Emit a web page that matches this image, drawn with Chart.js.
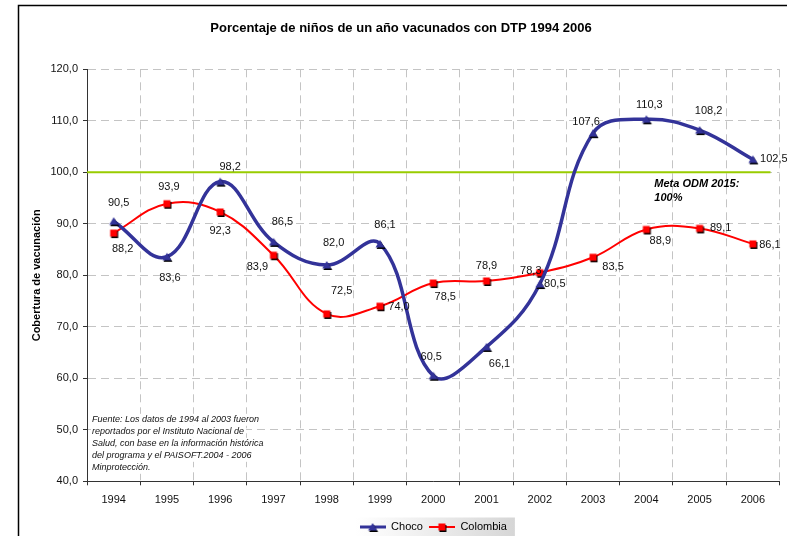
<!DOCTYPE html>
<html>
<head>
<meta charset="utf-8">
<script src="https://cdn.jsdelivr.net/npm/chart.js@4"></script>
<style>
  body { margin: 0; background: #ffffff; }
</style>
</head>
<body>
<canvas id="chart" width="787" height="536"></canvas>
<script>
// datos
const years = ['1994', '1995', '1996', '1997', '1998', '1999', '2000', '2001', '2002', '2003', '2004', '2005', '2006']
const choco = [90.5, 83.6, 98.2, 86.5, 82.0, 86.1, 60.5, 66.1, 78.3, 107.6, 110.3, 108.2, 102.5]
const colombia = [88.2, 93.9, 92.3, 83.9, 72.5, 74.0, 78.5, 78.9, 80.5, 83.5, 88.9, 89.1, 86.1]
const meta = 100
const yTicks = { min: 40, max: 120, step: 10 }

const title = 'Porcentaje de niños de un año vacunados con DTP 1994 2006'
const yTitle = 'Cobertura de vacunación'
const metaText = ['Meta ODM 2015:', '100%']
const fuente = [
    'Fuente: Los datos de 1994 al 2003 fueron',
    'reportados por el Instituto Nacional de',
    'Salud, con base en la información histórica',
    'del programa y el PAISOFT.2004 - 2006',
    'Minprotección.'
]

// where each value label sits, relative to its point (px)
const chocoLabelOffsets = [[5, -18], [3, 21], [10, -15], [9, -20], [7, -22], [5, -19], [-2, -19],
    [13, 17], [-9, -13], [-7, -11], [3, -14], [9, -19], [21, 0]]
const colombiaLabelOffsets = [[9, 16], [2, -17], [0, 19], [-16, 12], [15, -23], [19, 1], [12, 14],
    [0, -15], [15, 11], [20, 10], [14, 12], [21, 0], [17, 1]]

const FONT = 'Arial, "Liberation Sans", sans-serif'
const NAVY = '#333399'
const RED = '#ff0000'
const GREEN = '#99cc00'

function fmt(v) {
    return v.toFixed(1).replace('.', ',')
}

function makeMarker(shape, color, w, h, lineWidth) {
    let c = document.createElement('canvas')
    c.width = w
    c.height = h
    let g = c.getContext('2d')
    let cx = w / 2, cy = h / 2
    if (lineWidth) {
        g.strokeStyle = color
        g.lineWidth = lineWidth
        g.beginPath()
        g.moveTo(0, cy)
        g.lineTo(w, cy)
        g.stroke()
    }
    let draw = (dx, dy, fill) => {
        g.fillStyle = fill
        g.beginPath()
        if (shape === 'triangle') {
            g.moveTo(cx + dx, cy - 4 + dy)
            g.lineTo(cx + 4.5 + dx, cy + 3.5 + dy)
            g.lineTo(cx - 4.5 + dx, cy + 3.5 + dy)
            g.closePath()
        } else {
            g.rect(cx - 3.5 + dx, cy - 3.5 + dy, 7, 7)
        }
        g.fill()
    }
    draw(1, 1.5, '#000000')
    draw(0, 0, color)
    return c
}

const chocoMarker = makeMarker('triangle', NAVY, 14, 14, 0)
const colombiaMarker = makeMarker('square', RED, 14, 14, 0)
const chocoLegend = makeMarker('triangle', NAVY, 26, 12, 3)
const colombiaLegend = makeMarker('square', RED, 26, 12, 2)

const decorations = {
    id: 'decorations',
    beforeDraw(chart) {
        let ctx = chart.ctx
        ctx.save()
        ctx.fillStyle = '#ffffff'
        ctx.fillRect(0, 0, chart.width, chart.height)
        ctx.strokeStyle = '#000000'
        ctx.lineWidth = 1.5
        ctx.strokeRect(18.5, 5.5, 900, 900)
        // grey box behind the legend
        let boxes = chart.legend.legendHitBoxes
        if (boxes && boxes.length) {
            let l = boxes[0].left - 4
            let r = boxes[boxes.length - 1].left + boxes[boxes.length - 1].width + 8
            let t = boxes[0].top - 4
            let grad = ctx.createLinearGradient(l, 0, r, 0)
            grad.addColorStop(0, '#ffffff')
            grad.addColorStop(0.3, '#f4f4f4')
            grad.addColorStop(1, '#d6d6d6')
            ctx.fillStyle = grad
            ctx.fillRect(l, t, r - l, chart.height - t)
        }
        ctx.restore()
    },
    beforeDatasetsDraw(chart) {
        let ctx = chart.ctx
        let x = chart.scales.x, y = chart.scales.y
        let area = chart.chartArea
        ctx.save()
        // meta line
        let ym = y.getPixelForValue(meta)
        ctx.strokeStyle = GREEN
        ctx.lineWidth = 2
        ctx.beginPath()
        ctx.moveTo(area.left, ym)
        ctx.lineTo(area.right - 9, ym)
        ctx.stroke()

        ctx.fillStyle = '#000000'
        ctx.font = 'italic bold 11px ' + FONT
        ctx.textBaseline = 'middle'
        ctx.textAlign = 'left'
        let mx = x.getPixelForValue(10) + 8
        metaText.forEach((t, i) => ctx.fillText(t, mx, ym + 12 + i * 14))

        // fuente note
        ctx.font = 'italic 9px ' + FONT
        let fx = area.left + 5
        let fy = y.getPixelForValue(50) - 10
        fuente.forEach((t, i) => {
            let w = ctx.measureText(t).width
            ctx.fillStyle = '#ffffff'
            ctx.fillRect(fx - 1, fy + i * 12 - 6, w + 3, 12)
            ctx.fillStyle = '#111111'
            ctx.fillText(t, fx, fy + i * 12)
        })
        ctx.restore()
    },
    afterDatasetsDraw(chart) {
        let ctx = chart.ctx
        ctx.save()
        ctx.font = '11px ' + FONT
        ctx.fillStyle = '#111111'
        ctx.textAlign = 'center'
        ctx.textBaseline = 'middle'
        let offsets = [chocoLabelOffsets, colombiaLabelOffsets]
        chart.data.datasets.forEach((ds, d) => {
            let meta_ = chart.getDatasetMeta(d)
            meta_.data.forEach((pt, i) => {
                let o = offsets[d][i]
                ctx.fillText(fmt(ds.data[i]), pt.x + o[0], pt.y + o[1])
            })
        })
        ctx.restore()
    }
}

const gridStyle = {
    color: '#c4c4c4',
    lineWidth: 1,
    tickColor: '#333333',
    tickBorderDash: [],
    tickLength: 4
}
const borderStyle = { color: '#333333', width: 1, dash: [8, 5] }

new Chart(document.getElementById('chart'), {
    type: 'line',
    data: {
        labels: years,
        datasets: [{
            label: 'Choco',
            data: choco,
            borderColor: NAVY,
            backgroundColor: NAVY,
            borderWidth: 3.5,
            tension: 0.4,
            pointStyle: chocoMarker,
            legendStyle: chocoLegend
        }, {
            label: 'Colombia',
            data: colombia,
            borderColor: RED,
            backgroundColor: RED,
            borderWidth: 2,
            tension: 0.4,
            pointStyle: colombiaMarker,
            legendStyle: colombiaLegend
        }]
    },
    options: {
        responsive: false,
        animation: false,
        layout: {
            padding: { left: 20, right: 5, top: 0, bottom: 0 }
        },
        scales: {
            x: {
                offset: true,
                grid: Object.assign({ offset: true }, gridStyle),
                border: borderStyle,
                ticks: {
                    color: '#111111',
                    padding: 8,
                    maxRotation: 0,
                    font: { family: FONT, size: 11 }
                },
                afterFit(scale) { scale.height = 34.2 }
            },
            y: {
                min: yTicks.min,
                max: yTicks.max,
                grid: gridStyle,
                border: borderStyle,
                ticks: {
                    stepSize: yTicks.step,
                    color: '#111111',
                    padding: 5,
                    font: { family: FONT, size: 11 },
                    callback: v => fmt(v)
                },
                title: {
                    display: true,
                    text: yTitle,
                    color: '#000000',
                    padding: { top: 10, bottom: 0 },
                    font: { family: FONT, size: 11, weight: 'bold' }
                },
                afterFit(scale) { scale.width = 67 }
            }
        },
        plugins: {
            title: {
                display: true,
                text: title,
                color: '#000000',
                padding: { top: 21, bottom: 32.7 },
                font: { family: FONT, size: 13, weight: 'bold' }
            },
            legend: {
                display: true,
                position: 'bottom',
                fullSize: false,
                maxHeight: 20.5,
                labels: {
                    color: '#000000',
                    padding: 6,
                    usePointStyle: true,
                    pointStyleWidth: 26,
                    font: { family: FONT, size: 11 },
                    generateLabels(chart) {
                        let items = Chart.defaults.plugins.legend.labels.generateLabels(chart)
                        items.forEach(it => {
                            it.pointStyle = chart.data.datasets[it.datasetIndex].legendStyle
                        })
                        return items
                    }
                }
            },
            tooltip: { enabled: false }
        }
    },
    plugins: [decorations]
})
</script>
</body>
</html>
